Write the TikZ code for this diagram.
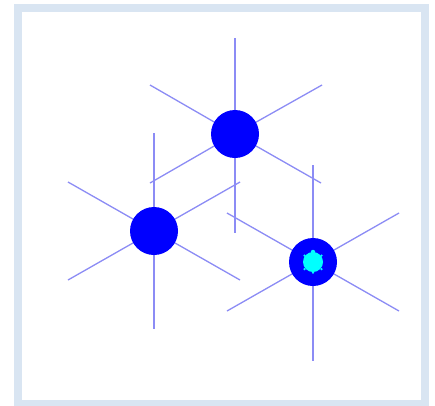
\documentclass[tikz,border=0pt]{standalone}
\definecolor{frameblue}{RGB}{217,229,242}
\definecolor{spoke}{RGB}{140,140,245}
\definecolor{corecyan}{RGB}{0,255,255}
\tikzset{
  px/.style={x=1pt,y=-1pt},
  hub/.style={circle,fill=blue,draw=none,minimum size=48pt,inner sep=0pt},
  spokeline/.style={draw=spoke,line width=1.3pt},
  core/.style={circle,fill=corecyan,draw=none,minimum size=20pt,inner sep=0pt},
  bump/.style={circle,fill=corecyan,draw=none,minimum size=2.5pt,inner sep=0pt},
  bigbump/.style={circle,fill=corecyan,draw=none,minimum size=4.5pt,inner sep=0pt}
}
\begin{document}
\begin{tikzpicture}[px]
\useasboundingbox (0,0) rectangle (435,405);
\fill[white] (0,0) rectangle (435,405);
\draw[frameblue,line width=8pt] (18,8) rectangle (425,404);
% free spoke ends
\coordinate (a1) at (235,38);
\coordinate (a2) at (322,85);
\coordinate (a3) at (321,183);
\coordinate (a4) at (235,233);
\coordinate (a5) at (150,183);
\coordinate (a6) at (150,85);
\coordinate (b1) at (154,133);
\coordinate (b2) at (240,182);
\coordinate (b3) at (240,280);
\coordinate (b4) at (154,329);
\coordinate (b5) at (68,280);
\coordinate (b6) at (68,182);
\coordinate (c1) at (313,165);
\coordinate (c2) at (399,213);
\coordinate (c3) at (399,311);
\coordinate (c4) at (313,361);
\coordinate (c5) at (227,311);
\coordinate (c6) at (227,213);
\coordinate (ca) at (235,134);
\coordinate (cb) at (154,231);
\coordinate (cc) at (313,262);
\foreach \h/\p in {ca/a,cb/b,cc/c}{
  \foreach \i in {1,...,6}{
    \draw[spokeline] (\h) -- (\p\i);
  }
}
\node[hub] (A) at (ca) {};
\node[hub] (B) at (cb) {};
\node[hub] (C) at (cc) {};
\node[core] (D) at (cc) {};
\node[bigbump] (d1) at (313,252) {};
\node[bump] (d2) at (313,272.5) {};
\node[bump] (d3) at (304.5,255.5) {};
\node[bump] (d4) at (321.5,255.5) {};
\node[bump] (d5) at (304.5,269) {};
\node[bump] (d6) at (321.5,269) {};
\end{tikzpicture}
\end{document}
